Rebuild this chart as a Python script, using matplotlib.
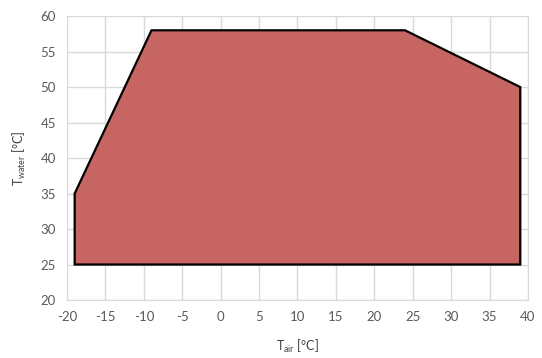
import matplotlib.pyplot as plt

# operating envelope corners
t_air = [-19, -19, -9, 24, 39, 39]
t_water = [25, 35, 58, 58, 50, 25]

x_ticks = list(range(-20, 45, 5))
y_ticks = list(range(20, 65, 5))

plt.rcParams['font.family'] = ['Lato', 'DejaVu Sans']
plt.rcParams['axes.unicode_minus'] = False

fig = plt.figure(figsize=(5.42, 3.58), dpi=100)
ax = fig.add_axes([0.1236, 0.162, 0.8505, 0.793])

ax.fill(t_air, t_water, facecolor='#C66562', edgecolor='black', linewidth=1.6,
        joinstyle='miter', zorder=3)

ax.set_xlim(-20, 40)
ax.set_ylim(20, 60)
ax.set_xticks(x_ticks)
ax.set_yticks(y_ticks)
ax.grid(True, color='#D9D9D9', linewidth=1)
ax.set_axisbelow(True)
for s in ax.spines.values():
    s.set_color('#D9D9D9')
ax.tick_params(length=0, labelsize=9.5, colors='#595959', pad=8)

ax.set_xlabel(r'T$_{\mathregular{air}}$ [°C]', fontsize=9, color='#404040', labelpad=11)
ax.set_ylabel(r'T$_{\mathregular{water}}$ [°C]', fontsize=9, color='#404040', labelpad=9)

fig.savefig('out.png', dpi=100)
